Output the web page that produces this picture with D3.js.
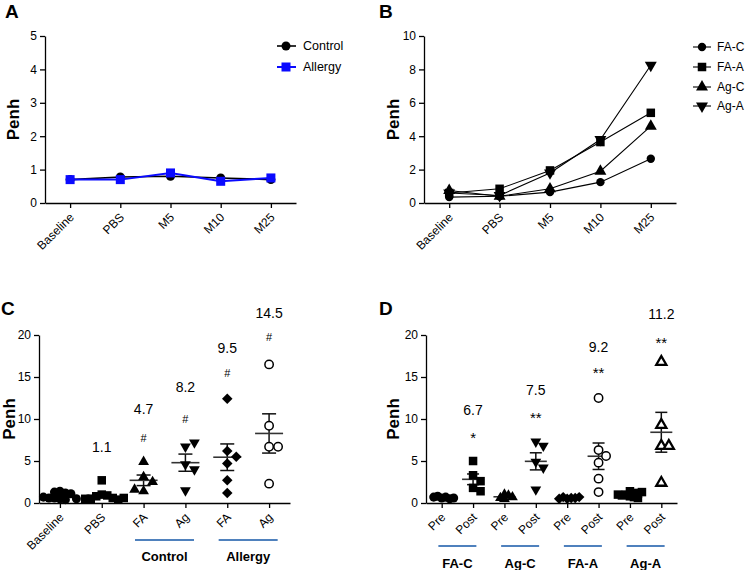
<!DOCTYPE html>
<html><head><meta charset="utf-8">
<script src="https://cdn.jsdelivr.net/npm/d3@7"></script>
<style>
body{margin:0;background:#fff}
svg{display:block;font-family:"Liberation Sans",Arial,Helvetica,sans-serif}
</style>
</head><body>
<svg id="chart" width="748" height="570"></svg>
<script>
// ---------- DATA ----------
// Panel A
const timeCats = ["Baseline", "PBS", "M5", "M10", "M25"];
const aControl = [0.70, 0.78, 0.80, 0.75, 0.70];
const aAllergy = [0.70, 0.70, 0.90, 0.65, 0.75];
const aTicks = [0, 1, 2, 3, 4, 5];
const aSeriesNames = ["Control", "Allergy"];
// Panel B
const bSeriesNames = ["FA-C", "FA-A", "Ag-C", "Ag-A"];
const bFAC = [0.35, 0.40, 0.65, 1.25, 2.65];
const bFAA = [0.60, 0.85, 1.95, 3.65, 5.40];
const bAgC = [0.75, 0.40, 0.85, 1.90, 4.60];
const bAgA = [0.60, 0.45, 1.80, 3.80, 8.25];
const bTicks = [0, 2, 4, 6, 8, 10];
// Panel C
const cCats = ["Baseline", "PBS", "FA", "Ag", "FA", "Ag"];
const cGroupNames = ["Control", "Allergy"];
const cGroupFirst = [2, 4];
const cBaseline = [1.4, 1.2, 1.3, 1.1, 0.5, 0.6, 0.4, 0.6, 0.5, 0.7];
const cPBS = [2.7, 1.0, 0.9, 0.8, 0.6, 0.5, 0.4, 0.5, 0.6];
const cFAControl = [4.9, 3.1, 2.5, 1.4, 1.6];
const cAgControl = [6.7, 7.2, 4.6, 4.0, 1.5];
const cFAAllergy = [12.4, 6.2, 5.5, 4.7, 2.7, 1.2];
const cAgAllergy = [16.5, 9.2, 6.7, 6.7, 2.3];
const cNumbers = ["", "1.1", "4.7", "8.2", "9.5", "14.5"];
const cNumberAt = [null, 6.7, 11.2, 13.8, 18.5, 22.6];
const cSigns = ["", "", "#", "#", "#", "#"];
const cSignAt = [null, null, 7.7, 10.0, 15.5, 19.8];
const cdTicks = [0, 5, 10, 15, 20];
// Panel D
const dCats = ["Pre", "Post", "Pre", "Post", "Pre", "Post", "Pre", "Post"];
const dGroupNames = ["FA-C", "Ag-C", "FA-A", "Ag-A"];
const dGroupFirst = [0, 2, 4, 6];
const dFACpre = [0.6, 0.7, 0.8, 0.5, 0.7, 0.6];
const dFACpost = [5.0, 3.3, 2.6, 1.8, 1.4];
const dAgCpre = [1.0, 0.9, 0.5, 0.6, 0.7];
const dAgCpost = [7.3, 6.8, 4.9, 4.2, 1.6];
const dFAApre = [0.5, 0.6, 0.7, 0.6, 0.5, 0.7];
const dFAApost = [12.5, 6.3, 5.6, 4.8, 2.9, 1.3];
const dAgApre = [1.4, 1.2, 1.0, 0.8, 0.7, 1.1, 0.9, 0.6, 1.3, 1.0];
const dAgApost = [16.8, 9.3, 6.8, 6.8, 2.4];
const dNumbers = ["", "6.7", "", "7.5", "", "9.2", "", "11.2"];
const dNumberAt = [null, 11.1, null, 13.5, null, 18.6, null, 22.5];
const dSigns = ["", "*", "", "**", "", "**", "", "**"];
const dSignAt = [null, 8.3, null, 10.6, null, 16.0, null, 19.6];

// ---------- DRAWING ----------
const svg = d3.select("#chart");
const BLUE = "#0a0aff";
const LINEBLUE = "#4f81bd";

function marker(g, type, x, y, s) {
  const k = s || 1;
  let sym, size, fill = "#000", stroke = "none", sw = 0, rot = 0;
  switch (type) {
    case "circle": sym = d3.symbolCircle; size = 58 * k; break;
    case "square": sym = d3.symbolSquare; size = 66 * k; break;
    case "triangle": sym = d3.symbolTriangle; size = 46 * k; break;
    case "triangleDown": sym = d3.symbolTriangle; size = 46 * k; rot = 180; break;
    case "diamond": sym = d3.symbolSquare; size = 50 * k; rot = 45; break;
    case "openCircle": sym = d3.symbolCircle; size = 50 * k; fill = "#fff"; stroke = "#000"; sw = 1.5; break;
    case "openTriangle": sym = d3.symbolTriangle; size = 40 * k; fill = "#fff"; stroke = "#000"; sw = 2.3; break;
  }
  g.append("path")
    .attr("d", d3.symbol().type(sym).size(size)())
    .attr("transform", `translate(${x},${y}) rotate(${rot})`)
    .attr("fill", fill).attr("stroke", stroke).attr("stroke-width", sw);
}

function styleAxis(sel) {
  sel.select(".domain").attr("stroke", "#000").attr("stroke-width", 1.3);
  sel.selectAll(".tick line").attr("stroke", "#000").attr("stroke-width", 1.3);
  sel.selectAll("text").attr("fill", "#000").attr("font-size", 12);
}

function makePanel(cfg) {
  const g = svg.append("g");
  const x = d3.scalePoint().domain(d3.range(cfg.cats.length)).range([cfg.x0, cfg.x1]).padding(0.5);
  const y = d3.scaleLinear().domain([0, cfg.ymax]).range([cfg.yb, cfg.yt]);
  const ya = g.append("g").attr("transform", `translate(${cfg.x0},0)`)
    .call(d3.axisLeft(y).tickValues(cfg.ticks).tickFormat(d3.format("d")).tickSize(5).tickSizeOuter(0).tickPadding(3));
  styleAxis(ya);
  const xa = g.append("g").attr("transform", `translate(0,${cfg.yb})`)
    .call(d3.axisBottom(x).tickSize(5).tickSizeOuter(0).tickFormat(i => cfg.cats[i]));
  styleAxis(xa);
  xa.selectAll("text").attr("x", 0).attr("y", 0).attr("dy", 0)
    .attr("text-anchor", "end").attr("transform", "translate(4,15) rotate(-45)");
  g.append("text").attr("transform", `translate(${cfg.penhX},${(cfg.yt + cfg.yb) / 2}) rotate(-90)`)
    .attr("text-anchor", "middle").attr("dominant-baseline", "central")
    .attr("font-size", 17).attr("font-weight", "bold").text("Penh");
  g.append("text").attr("x", cfg.labX).attr("y", cfg.labY)
    .attr("font-size", 19).attr("font-weight", "bold").text(cfg.label);
  return { g, x, y };
}

// ---- Panel A ----
(function () {
  const { g, x, y } = makePanel({ cats: timeCats, x0: 45, x1: 296, yt: 36, yb: 203, ymax: 5, ticks: aTicks, penhX: 13, label: "A", labX: 5, labY: 18 });
  const line = d3.line().x((d, i) => x(i)).y(d => y(d));
  g.append("path").attr("d", line(aControl)).attr("fill", "none").attr("stroke", "#000").attr("stroke-width", 1.6);
  aControl.forEach((v, i) => g.append("circle").attr("cx", x(i)).attr("cy", y(v)).attr("r", 4.5).attr("fill", "#000"));
  g.append("path").attr("d", line(aAllergy)).attr("fill", "none").attr("stroke", BLUE).attr("stroke-width", 2);
  aAllergy.forEach((v, i) => g.append("rect").attr("x", x(i) - 4.5).attr("y", y(v) - 4.5).attr("width", 9).attr("height", 9).attr("fill", BLUE));
  const ly = [46, 67];
  g.append("line").attr("x1", 277).attr("x2", 296).attr("y1", ly[0]).attr("y2", ly[0]).attr("stroke", "#000").attr("stroke-width", 1.6);
  g.append("circle").attr("cx", 286).attr("cy", ly[0]).attr("r", 4.5).attr("fill", "#000");
  g.append("line").attr("x1", 277).attr("x2", 296).attr("y1", ly[1]).attr("y2", ly[1]).attr("stroke", BLUE).attr("stroke-width", 2);
  g.append("rect").attr("x", 281.5).attr("y", ly[1] - 4.5).attr("width", 9).attr("height", 9).attr("fill", BLUE);
  aSeriesNames.forEach((n, i) => g.append("text").attr("x", 303).attr("y", ly[i]).attr("dominant-baseline", "central").attr("font-size", 12.5).text(n));
})();

// ---- Panel B ----
(function () {
  const { g, x, y } = makePanel({ cats: timeCats, x0: 424, x1: 676, yt: 36, yb: 203, ymax: 10, ticks: bTicks, penhX: 393, label: "B", labX: 379, labY: 18 });
  const line = d3.line().x((d, i) => x(i)).y(d => y(d));
  const series = [bFAC, bFAA, bAgC, bAgA];
  const types = ["circle", "square", "triangle", "triangleDown"];
  const scl = [0.95, 1.1, 1.35, 1.35];
  series.forEach(s => {
    g.append("path").attr("d", line(s)).attr("fill", "none").attr("stroke", "#000").attr("stroke-width", 1.1);
  });
  series.forEach((s, k) => s.forEach((v, i) => marker(g, types[k], x(i), y(v), scl[k])));
  const ly = [47, 67, 87, 106];
  bSeriesNames.forEach((n, k) => {
    g.append("line").attr("x1", 693).attr("x2", 711).attr("y1", ly[k]).attr("y2", ly[k]).attr("stroke", "#000").attr("stroke-width", 1.1);
    marker(g, types[k], 702, ly[k], scl[k]);
    g.append("text").attr("x", 717).attr("y", ly[k]).attr("dominant-baseline", "central").attr("font-size", 12).text(n);
  });
})();

// ---- scatter helpers ----
function swarm(values, y, step, dist) {
  const placed = [];
  return values.map(v => {
    const py = y(v);
    const cands = [0];
    for (let k = 1; k < 10; k++) { cands.push(k * step, -k * step); }
    let off = 0;
    for (const c of cands) {
      if (placed.every(p => Math.hypot(p[0] - c, p[1] - py) >= dist)) { off = c; break; }
    }
    placed.push([off, py]);
    return off;
  });
}
function meanSem(g, vals, cx, y, meanW, capW) {
  const m = d3.mean(vals);
  const sem = d3.deviation(vals) / Math.sqrt(vals.length);
  const st = "#111";
  g.append("line").attr("x1", cx).attr("x2", cx).attr("y1", y(m + sem)).attr("y2", y(m - sem)).attr("stroke", st).attr("stroke-width", 1.5);
  g.append("line").attr("x1", cx - capW / 2).attr("x2", cx + capW / 2).attr("y1", y(m + sem)).attr("y2", y(m + sem)).attr("stroke", st).attr("stroke-width", 1.5);
  g.append("line").attr("x1", cx - capW / 2).attr("x2", cx + capW / 2).attr("y1", y(m - sem)).attr("y2", y(m - sem)).attr("stroke", st).attr("stroke-width", 1.5);
  g.append("line").attr("x1", cx - meanW / 2).attr("x2", cx + meanW / 2).attr("y1", y(m)).attr("y2", y(m)).attr("stroke", "#333").attr("stroke-width", 1.6);
}
function annotate(g, x, y, nums, numAt, signs, signAt) {
  nums.forEach((t, i) => {
    if (t) g.append("text").attr("x", x(i)).attr("y", y(numAt[i])).attr("text-anchor", "middle").attr("dominant-baseline", "central").attr("font-size", 14).text(t);
  });
  signs.forEach((t, i) => {
    if (!t) return;
    const star = t.indexOf("*") >= 0;
    g.append("text").attr("x", x(i)).attr("y", y(signAt[i])).attr("text-anchor", "middle")
      .attr("dominant-baseline", "central").attr("dy", star ? "0.25em" : "0")
      .attr("font-size", star ? 15 : 11).text(t);
  });
}
function groupLines(g, x, first, names, w, lineY, textY) {
  first.forEach((f, k) => {
    const c = (x(f) + x(f + 1)) / 2;
    g.append("line").attr("x1", c - w / 2).attr("x2", c + w / 2).attr("y1", lineY).attr("y2", lineY).attr("stroke", LINEBLUE).attr("stroke-width", 2);
    g.append("text").attr("x", c).attr("y", textY).attr("text-anchor", "middle").attr("dominant-baseline", "central")
      .attr("font-size", 13).attr("font-weight", "bold").text(names[k]);
  });
}
function drawScatter(g, x, y, groups, types, meanW, capW, sparseStep, denseStep) {
  groups.forEach((vals, i) => {
    meanSem(g, vals, x(i), y, meanW, capW);
    const dense = d3.median(vals) < 1.5;
    const st = dense ? denseStep : sparseStep;
    const offs = swarm(vals, y, st, dense ? denseStep : sparseStep * 0.95);
    vals.forEach((v, j) => marker(g, types[i], x(i) + offs[j], y(v), 1.1));
  });
}

// ---- Panel C ----
(function () {
  const { g, x, y } = makePanel({ cats: cCats, x0: 39, x1: 290, yt: 335, yb: 503, ymax: 20, ticks: cdTicks, penhX: 9, label: "C", labX: 1, labY: 315 });
  const groups = [cBaseline, cPBS, cFAControl, cAgControl, cFAAllergy, cAgAllergy];
  const types = ["circle", "square", "triangle", "triangleDown", "diamond", "openCircle"];
  drawScatter(g, x, y, groups, types, 28, 14, 9, 5.5);
  annotate(g, x, y, cNumbers, cNumberAt, cSigns, cSignAt);
  groupLines(g, x, cGroupFirst, cGroupNames, 59, 540, 556);
})();

// ---- Panel D ----
(function () {
  const { g, x, y } = makePanel({ cats: dCats, x0: 426, x1: 677, yt: 335, yb: 503, ymax: 20, ticks: cdTicks, penhX: 393, label: "D", labX: 379, labY: 315 });
  const groups = [dFACpre, dFACpost, dAgCpre, dAgCpost, dFAApre, dFAApost, dAgApre, dAgApost];
  const types = ["circle", "square", "triangle", "triangleDown", "diamond", "openCircle", "square", "openTriangle"];
  drawScatter(g, x, y, groups, types, 22, 12, 7.5, 4);
  annotate(g, x, y, dNumbers, dNumberAt, dSigns, dSignAt);
  groupLines(g, x, dGroupFirst, dGroupNames, 38, 546, 563);
})();
</script>
</body></html>
